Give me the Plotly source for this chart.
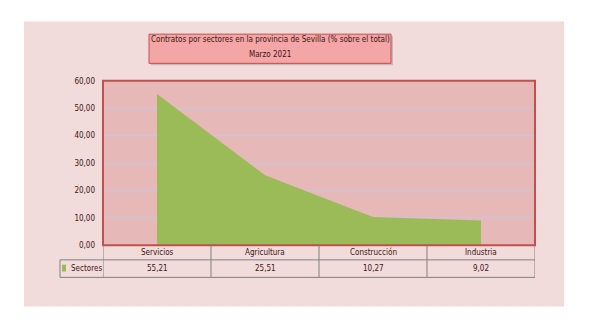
import plotly.graph_objects as go

categories = ["Servicios", "Agricultura", "Construcción", "Industria"]
values = [55.21, 25.51, 10.27, 9.02]
series_name = "Sectores"
title_lines = ["Contratos por sectores en la provincia de Sevilla (% sobre el total)", "Marzo 2021"]
y_ticks = [0, 10, 20, 30, 40, 50, 60]

W, H = 614, 331
FONT = "DejaVu Sans Condensed, Liberation Sans Narrow, sans-serif"
FS = 8
TXT = "#3d1414"
GRID = "#808080"

def px(x):
    return x / W

def py(y):
    return 1 - y / H

plot_l, plot_r, plot_t, plot_b = 103, 535, 79, 248
row1_b, row2_b = 263, 281
legend_l = 60

fig = go.Figure()
fig.add_trace(go.Scatter(
    x=list(range(len(categories))), y=values, mode="lines",
    fill="tozeroy", fillcolor="#9bbb59", line=dict(width=0, color="#9bbb59"),
    name=series_name, showlegend=False, hoverinfo="skip"))

shapes = []
shapes.append(dict(type="rect", xref="paper", yref="paper", x0=px(24), x1=px(564), y0=py(311), y1=py(18),
                   fillcolor="#f2dcdb", line=dict(width=0), layer="below"))
shapes.append(dict(type="rect", xref="paper", yref="paper", x0=px(plot_l), x1=px(plot_r), y0=py(plot_b), y1=py(plot_t),
                   fillcolor="#e6b8b7", line=dict(width=0), layer="below"))
shapes.append(dict(type="rect", xref="paper", yref="paper", x0=px(plot_l), x1=px(plot_r), y0=py(plot_b), y1=py(plot_t),
                   line=dict(color="#c0504d", width=2), layer="above"))
shapes.append(dict(type="rect", xref="paper", yref="paper", x0=px(151), x1=px(393), y0=py(63), y1=py(33),
                   fillcolor="rgba(120,120,120,0.35)", line=dict(width=0)))
shapes.append(dict(type="rect", xref="paper", yref="paper", x0=px(149), x1=px(391), y0=py(61), y1=py(31),
                   fillcolor="#f3a6a5", line=dict(color="#c0504d", width=1)))

n = len(categories)
tl = dict(color=GRID, width=1)
for i in range(n + 1):
    shapes.append(dict(type="line", xref="x", yref="paper", x0=i - 0.5, x1=i - 0.5,
                       y0=py(row2_b), y1=py(plot_b), line=tl))
shapes.append(dict(type="line", xref="x", yref="paper", x0=-0.5, x1=n - 0.5, y0=py(row1_b), y1=py(row1_b), line=tl))
shapes.append(dict(type="line", xref="paper", yref="paper", x0=px(legend_l), x1=px(plot_r), y0=py(row2_b), y1=py(row2_b), line=tl))
shapes.append(dict(type="line", xref="paper", yref="paper", x0=px(legend_l), x1=px(plot_l), y0=py(row1_b), y1=py(row1_b), line=tl))
shapes.append(dict(type="line", xref="paper", yref="paper", x0=px(legend_l), x1=px(legend_l), y0=py(row2_b), y1=py(row1_b), line=tl))
shapes.append(dict(type="rect", xref="paper", yref="paper", x0=px(62), x1=px(66), y0=py(275), y1=py(268),
                   fillcolor="#9bbb59", line=dict(width=0)))

font = dict(family=FONT, size=FS, color=TXT)
annotations = []
for k, (line, yy) in enumerate(zip(title_lines, [37, 52])):
    annotations.append(dict(xref="paper", yref="paper", x=px(270), y=py(yy), text=line,
                            xanchor="center", yanchor="middle", showarrow=False, font=font))
for i, (c, v) in enumerate(zip(categories, values)):
    annotations.append(dict(xref="x", yref="paper", x=i, y=py(row1_b - 1), text=c,
                            xanchor="center", yanchor="bottom", showarrow=False, font=font))
    annotations.append(dict(xref="x", yref="paper", x=i, y=py(row2_b - 2),
                            text=f"{v:.2f}".replace(".", ","),
                            xanchor="center", yanchor="bottom", showarrow=False, font=font))
annotations.append(dict(xref="paper", yref="paper", x=px(69), y=py(row2_b - 2), text=series_name,
                        xanchor="left", yanchor="bottom", showarrow=False, font=font))

fig.update_layout(
    width=W, height=H, margin=dict(l=0, r=0, t=0, b=0),
    paper_bgcolor="white", plot_bgcolor="#e6b8b7",
    separators=",.",
    xaxis=dict(domain=[px(plot_l), px(plot_r)], range=[-0.5, n - 0.5], showticklabels=False,
               showgrid=False, zeroline=False, fixedrange=True),
    yaxis=dict(domain=[py(plot_b), py(plot_t)], range=[0, 60], tickvals=y_ticks, tickformat=".2f",
               showgrid=True, gridcolor="#c4c6e4", gridwidth=1.3, zeroline=False,
               tickfont=font, ticks="", ticklabelstandoff=7),
    shapes=shapes, annotations=annotations, showlegend=False,
)
fig.write_html("out.html")
